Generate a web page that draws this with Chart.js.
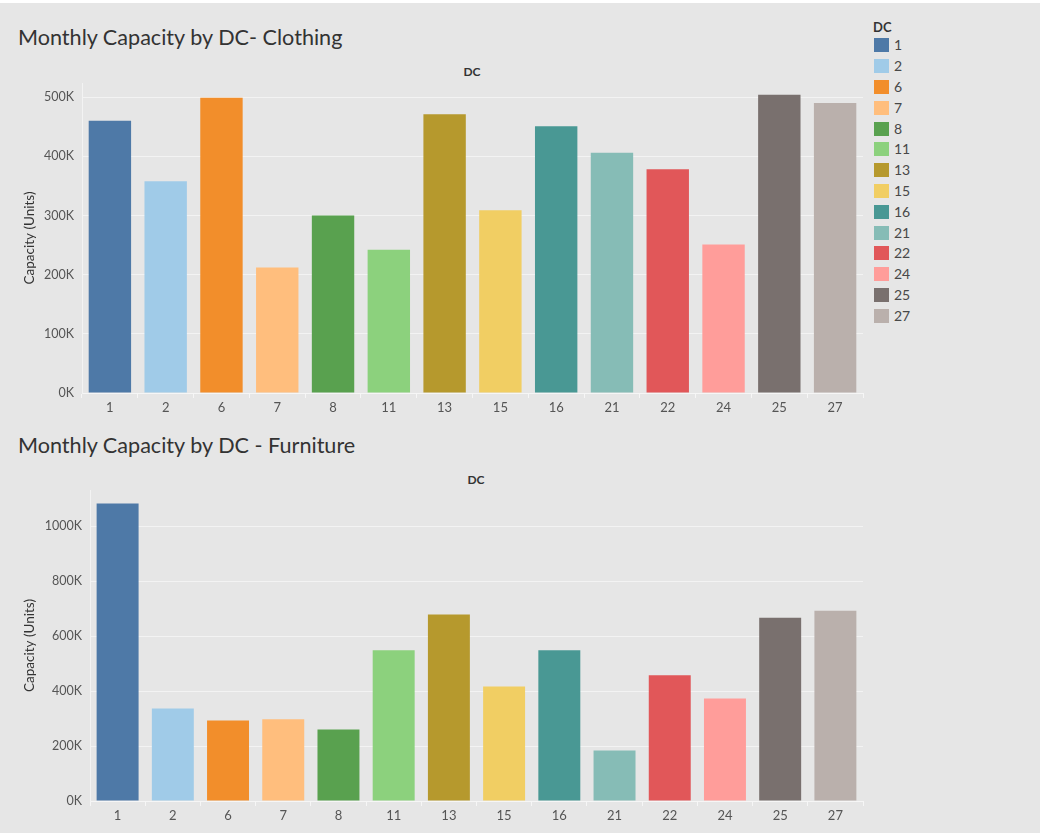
<!DOCTYPE html>
<html>
<head>
<meta charset="utf-8">
<script src="https://cdn.jsdelivr.net/npm/chart.js@4.4.1/dist/chart.umd.min.js"></script>
<style>
  html, body { margin: 0; padding: 0; background: #ffffff; }
  #board {
    position: absolute; left: 0; top: 3px; width: 1040px; height: 830px;
    background: #e6e6e6; font-family: Lato, "Open Sans", sans-serif; overflow: hidden;
  }
  .title { position: absolute; left: 18px; font-size: 21.6px; color: #333; white-space: nowrap; font-weight: 400; }
  .colhead { position: absolute; font-size: 12px; font-weight: 700; color: #333; transform: translateX(-50%); }
  canvas { position: absolute; left: 0; }
  #legend { position: absolute; left: 873px; top: 0; }
  #legend .head { position: absolute; left: 0; top: 16px; font-size: 13px; font-weight: 700; color: #333; }
  #legend .row { position: absolute; left: 1px; height: 15px; white-space: nowrap; }
  #legend .sw { position: absolute; left: 0; top: 0; width: 15px; height: 14px; }
  #legend .lb { position: absolute; left: 20px; top: -2px; font-size: 14px; color: #484848; }
</style>
</head>
<body>
<div id="board">
  <div class="title" style="top:21px">Monthly Capacity by DC- Clothing</div>
  <div class="colhead" style="left:472px; top:61px">DC</div>
  <canvas id="clothing" width="870" height="360" style="top:57px"></canvas>

  <div class="title" style="top:429px">Monthly Capacity by DC - Furniture</div>
  <div class="colhead" style="left:476px; top:469px">DC</div>
  <canvas id="furniture" width="870" height="360" style="top:467px"></canvas>

  <div id="legend"><div class="head">DC</div></div>
</div>
<script>
// Distribution centres and their colours
const dcLabels = ['1', '2', '6', '7', '8', '11', '13', '15', '16', '21', '22', '24', '25', '27'];
const dcColors = ['#4e79a7', '#a0cbe8', '#f28e2b', '#ffbe7d', '#59a14f', '#8cd17d', '#b6992d',
                  '#f1ce63', '#499894', '#86bcb6', '#e15759', '#ff9d9a', '#79706e', '#bab0ac'];

// Monthly capacity (units) per DC
const clothingCapacity  = [460000, 358000, 499000, 212000, 300000, 242000, 471000,
                           309000, 451000, 406000, 378000, 251000, 504000, 490000];
const furnitureCapacity = [1082000, 336000, 293000, 297000, 260000, 548000, 678000,
                           416000, 548000, 184000, 457000, 373000, 666000, 692000];

// Value-axis ticks for each panel
const clothingTicks  = [0, 100000, 200000, 300000, 400000, 500000];
const furnitureTicks = [0, 200000, 400000, 600000, 800000, 1000000];

const tickColor = '#555';
const gridColor = '#f3f3f3';

function kFormat(v) { return (v / 1000) + 'K'; }

function makeChart(id, values, tickValues, yMax, axisWidth, padTop, xAxisHeight) {
  const ctx = document.getElementById(id);
  return new Chart(ctx, {
    type: 'bar',
    data: {
      labels: dcLabels,
      datasets: [{
        label: 'Capacity (Units)',
        data: values,
        backgroundColor: dcColors,
        borderWidth: 0,
        categoryPercentage: 1,
        barPercentage: 0.76
      }]
    },
    options: {
      responsive: false,
      devicePixelRatio: 1,
      animation: false,
      layout: { padding: { top: padTop, right: 7, left: 0, bottom: 0 } },
      plugins: { legend: { display: false }, tooltip: { enabled: false }, title: { display: false } },
      scales: {
        x: {
          grid: { display: true, drawOnChartArea: false, drawTicks: true, tickLength: 5, color: '#f6f6f6', offset: true },
          border: { display: true, color: '#f6f6f6', width: 1 },
          ticks: { color: tickColor, font: { family: 'Lato', size: 13 }, padding: 2, maxRotation: 0 },
          afterFit: (s) => { s.height = xAxisHeight; }
        },
        y: {
          min: 0,
          max: yMax,
          grid: { color: gridColor, lineWidth: 1, drawTicks: false },
          border: { display: true, color: '#f3f3f3', width: 1 },
          ticks: {
            autoSkip: false,
            padding: 8,
            color: tickColor,
            font: { family: 'Lato', size: 12.5 },
            callback: (v) => kFormat(v)
          },
          afterBuildTicks: (s) => { s.ticks = tickValues.map((v) => ({ value: v })); },
          title: {
            display: true,
            text: 'Capacity (Units)',
            color: '#333',
            font: { family: 'Lato', size: 13.5 },
            padding: { top: 22, bottom: 0 }
          },
          afterFit: (s) => { s.width = axisWidth; }
        }
      }
    }
  });
}

makeChart('clothing', clothingCapacity, clothingTicks, 524000, 82, 23, 27);
makeChart('furniture', furnitureCapacity, furnitureTicks, 1131000, 90, 20, 29);

// Colour legend
const legend = document.getElementById('legend');
dcLabels.forEach((lab, i) => {
  const row = document.createElement('div');
  row.className = 'row';
  row.style.top = (35.3 + i * 20.8) + 'px';
  row.innerHTML = '<div class="sw" style="background:' + dcColors[i] + '"></div><div class="lb">' + lab + '</div>';
  legend.appendChild(row);
});
</script>
</body>
</html>
